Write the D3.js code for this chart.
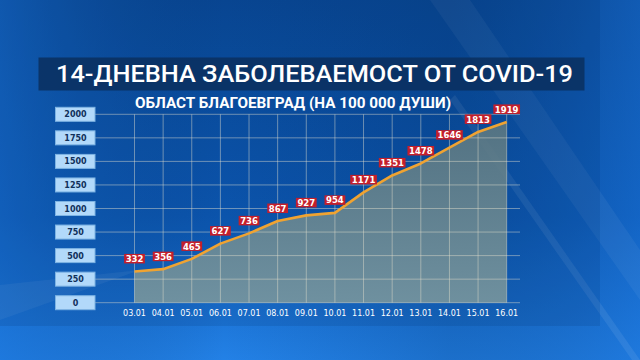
<!DOCTYPE html>
<html>
<head>
<meta charset="utf-8">
<script src="https://cdn.jsdelivr.net/npm/d3@7"></script>
<style>
  html, body { margin: 0; padding: 0; background: #0b4a98; }
  svg { display: block; }
</style>
</head>
<body>
<svg id="chart" width="640" height="360"></svg>
<script>
// data
const dates = ["03.01","04.01","05.01","06.01","07.01","08.01","09.01","10.01","11.01","12.01","13.01","14.01","15.01","16.01"];
const values = [332, 356, 465, 627, 736, 867, 927, 954, 1171, 1351, 1478, 1646, 1813, 1919];
const yTicks = [0, 250, 500, 750, 1000, 1250, 1500, 1750, 2000];
const titleText = "14-ДНЕВНА ЗАБОЛЕВАЕМОСТ ОТ COVID-19";
const subtitleText = "ОБЛАСТ БЛАГОЕВГРАД (НА 100 000 ДУШИ)";

const svg = d3.select("#chart");
const W = 640, H = 360;

// background
const defs = svg.append("defs");
const bg = defs.append("linearGradient").attr("id", "bg").attr("x1", 0).attr("y1", 0).attr("x2", 0).attr("y2", 1);
bg.append("stop").attr("offset", "0%").attr("stop-color", "#0a4a99");
bg.append("stop").attr("offset", "60%").attr("stop-color", "#0d5bb8");
bg.append("stop").attr("offset", "100%").attr("stop-color", "#2381e6");
svg.append("rect").attr("width", W).attr("height", H).attr("fill", "url(#bg)");

const side = defs.append("linearGradient").attr("id", "side").attr("x1", 0).attr("y1", 0).attr("x2", 1).attr("y2", 0);
side.append("stop").attr("offset", "0%").attr("stop-color", "#1a72d6").attr("stop-opacity", 0.55);
side.append("stop").attr("offset", "35%").attr("stop-color", "#0a3f80").attr("stop-opacity", 0.0);
side.append("stop").attr("offset", "70%").attr("stop-color", "#063a78").attr("stop-opacity", 0.25);
side.append("stop").attr("offset", "100%").attr("stop-color", "#1a70d4").attr("stop-opacity", 0.45);
svg.append("rect").attr("width", W).attr("height", H).attr("fill", "url(#side)");

// light streaks
svg.append("path").attr("d", "M430,0 L470,0 L640,250 L640,300 Z").attr("fill", "#ffffff").attr("opacity", 0.05);
svg.append("path").attr("d", "M455,95 L640,360 L632,360 L450,100 Z").attr("fill", "#ffffff").attr("opacity", 0.08);
svg.append("path").attr("d", "M0,285 L140,270 L0,320 Z").attr("fill", "#ffffff").attr("opacity", 0.06);

// darker panel behind the chart
svg.append("rect").attr("x", 0).attr("y", 0).attr("width", 600).attr("height", 326)
  .attr("fill", "#002a66").attr("opacity", 0.14);

// title banner
svg.append("rect").attr("x", 38.5).attr("y", 57.5).attr("width", 546).attr("height", 33)
  .attr("fill", "#0a2f5e").attr("opacity", 0.85);
svg.append("text").attr("x", 314.5).attr("y", 82).attr("text-anchor", "middle")
  .attr("font-family", "Roboto, 'Noto Sans', sans-serif").attr("font-weight", 500)
  .attr("font-size", 23).attr("fill", "#ffffff")
  .attr("textLength", 517).attr("lengthAdjust", "spacingAndGlyphs")
  .text(titleText);
svg.append("text").attr("x", 293).attr("y", 107.5).attr("text-anchor", "middle")
  .attr("font-family", "Roboto, 'Noto Sans', sans-serif").attr("font-weight", "bold")
  .attr("font-size", 15).attr("fill", "#ffffff")
  .attr("textLength", 316).attr("lengthAdjust", "spacingAndGlyphs")
  .text(subtitleText);

// scales
const x = d3.scalePoint().domain(dates).range([134.5, 506.7]);
const y = d3.scaleLinear().domain([0, 2000]).range([302.7, 114.3]);

// area + line
const pts = dates.map((d, i) => ({ date: d, v: values[i] }));
const area = d3.area().x(d => x(d.date)).y0(y(0)).y1(d => y(d.v));
const line = d3.line().x(d => x(d.date)).y(d => y(d.v));

const areaGrad = defs.append("linearGradient").attr("id", "areaGrad").attr("x1", 0).attr("y1", 0).attr("x2", 0).attr("y2", 1);
areaGrad.append("stop").attr("offset", "0%").attr("stop-color", "#5d7880");
areaGrad.append("stop").attr("offset", "100%").attr("stop-color", "#7b979c");
svg.append("path").datum(pts).attr("d", area).attr("fill", "url(#areaGrad)").attr("opacity", 0.88);

// grid
const grid = svg.append("g");
grid.selectAll(".hline").data(yTicks).enter().append("line")
  .attr("class", "hline")
  .attr("x1", 95).attr("x2", 520)
  .attr("y1", d => y(d)).attr("y2", d => y(d))
  .attr("stroke", "#e6e2cf").attr("stroke-opacity", 0.45).attr("stroke-width", 1);
grid.selectAll(".vline").data(dates).enter().append("line")
  .attr("class", "vline")
  .attr("x1", d => x(d)).attr("x2", d => x(d))
  .attr("y1", y(2000)).attr("y2", y(0))
  .attr("stroke", "#e6e2cf").attr("stroke-opacity", 0.45).attr("stroke-width", 1);

svg.append("path").datum(pts).attr("d", line)
  .attr("fill", "none").attr("stroke", "#f0a331").attr("stroke-width", 2.6)
  .attr("stroke-linejoin", "round");

// y axis boxes
const yAxis = svg.append("g").selectAll("g").data(yTicks).enter().append("g")
  .attr("transform", d => `translate(0,${y(d)})`);
yAxis.append("rect").attr("x", 55.5).attr("y", -7).attr("width", 39.5).attr("height", 14)
  .attr("fill", "#b2d9fa").attr("stroke", "#7db3e3").attr("stroke-width", 1);
yAxis.append("text").attr("x", 75.5).attr("y", 3).attr("text-anchor", "middle")
  .attr("font-family", "'DejaVu Sans', sans-serif").attr("font-weight", "bold")
  .attr("font-size", 8).attr("fill", "#10305a")
  .text(d => d);

// x axis labels
svg.append("g").selectAll("text").data(dates).enter().append("text")
  .attr("x", d => x(d)).attr("y", 316)
  .attr("text-anchor", "middle")
  .attr("font-family", "'DejaVu Sans', sans-serif").attr("font-size", 8)
  .attr("fill", "#ffffff")
  .text(d => d);

// value labels
const lab = svg.append("g").selectAll("g").data(pts).enter().append("g")
  .attr("transform", d => `translate(${x(d.date)},${y(d.v) - 8})`);
lab.append("text")
  .attr("x", 0).attr("y", -1.4).attr("text-anchor", "middle")
  .attr("font-family", "'DejaVu Sans', sans-serif").attr("font-weight", "bold")
  .attr("font-size", 8.5).attr("fill", "#ffffff")
  .text(d => d.v);
lab.each(function() {
  const g = d3.select(this);
  const t = g.select("text");
  const w = t.node().getComputedTextLength();
  g.insert("rect", "text")
    .attr("x", -w / 2 - 1.5).attr("y", -9.5).attr("width", w + 3).attr("height", 9.5)
    .attr("fill", "#c41f2b");
});
</script>
</body>
</html>
